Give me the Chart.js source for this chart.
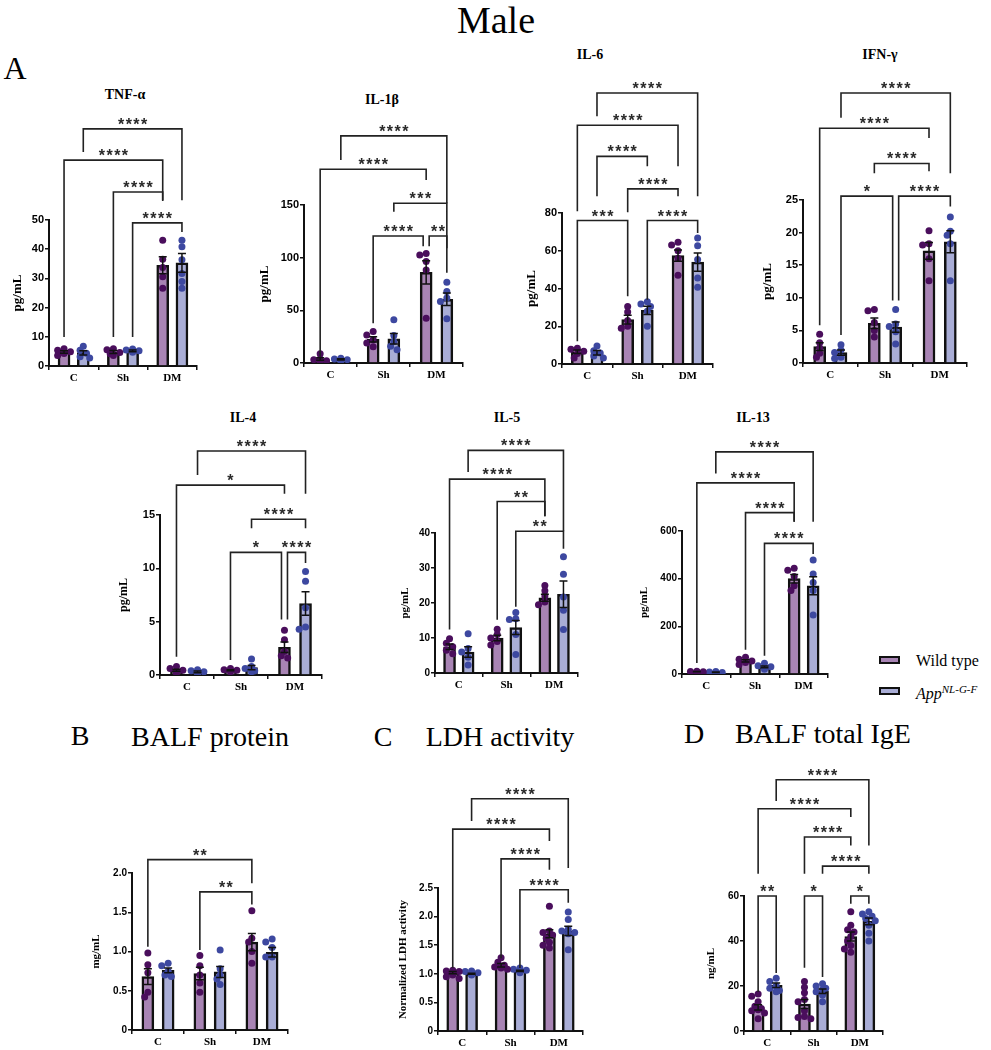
<!DOCTYPE html>
<html>
<head>
<meta charset="utf-8">
<script src="https://cdn.jsdelivr.net/npm/chart.js@4.4.1/dist/chart.umd.min.js"></script>
<style>
  body { margin: 0; background: #fff; }
  #fig { position: relative; width: 991px; height: 1050px; overflow: hidden; font-family: "Liberation Serif", "Times New Roman", serif; color: #000; }
  #fig canvas { position: absolute; }
  .t { position: absolute; transform: translate(-50%, -50%); white-space: nowrap; line-height: 1; }
  .ttl { font-weight: bold; font-size: 14px; }
  .big { font-size: 28px; }
  .key { position: absolute; width: 17px; height: 4px; border: 2.5px solid #111; }
  .lg { position: absolute; font-size: 16px; white-space: nowrap; line-height: 1; }
  .lg sup { font-size: 11px; }
</style>
</head>
<body>
<div id="fig">
  <div class="t" style="left:496px;top:20px;font-size:38px;">Male</div>
  <div class="t" style="left:15px;top:68px;font-size:32px;">A</div>

  <div class="t ttl" style="left:125px;top:95px;">TNF-α</div>
  <div class="t ttl" style="left:382px;top:100px;">IL-1β</div>
  <div class="t ttl" style="left:590px;top:55px;">IL-6</div>
  <div class="t ttl" style="left:880px;top:55px;">IFN-γ</div>
  <div class="t ttl" style="left:243px;top:418px;">IL-4</div>
  <div class="t ttl" style="left:507px;top:418px;">IL-5</div>
  <div class="t ttl" style="left:753px;top:418px;">IL-13</div>

  <div class="t big" style="left:80px;top:736px;">B</div>
  <div class="t big" style="left:210px;top:737px;">BALF protein</div>
  <div class="t big" style="left:383px;top:737px;">C</div>
  <div class="t big" style="left:500px;top:737px;">LDH activity</div>
  <div class="t big" style="left:694px;top:734px;">D</div>
  <div class="t big" style="left:823px;top:734px;">BALF total IgE</div>

  <div class="key" style="left:879px;top:656px;background:#a884b4;"></div>
  <div class="lg" style="left:916px;top:653px;">Wild type</div>
  <div class="key" style="left:879px;top:687px;background:#a9add6;"></div>
  <div class="lg" style="left:916px;top:684px;"><i>App</i><sup><i>NL-G-F</i></sup></div>
</div>

<script>
const groups = ['C', 'Sh', 'DM'];

// TNF-α
const tnfWtMean = [4.8, 4.8, 34.5];
const tnfWtSem = [0.4, 0.5, 2.9];
const tnfAppMean = [4.5, 5.2, 35.3];
const tnfAppSem = [0.7, 0.3, 3.2];
const tnfWtPts = [[5.9, 5.4, 4.9, 4.3, 3.6], [5.9, 5.6, 4.6, 4.2, 3.6], [43.1, 36.6, 33.7, 30.6, 26.6]];
const tnfAppPts = [[6.8, 5.4, 4.4, 3.2, 2.7], [5.8, 5.5, 5.2, 5.0, 4.7], [43.1, 40.8, 36.4, 31.7, 28.9, 26.6]];
// [bar a, bar b, level, end a, end b, label]  bars: 0 C-WT,1 C-App,2 Sh-WT,3 Sh-App,4 DM-WT,5 DM-App
const tnfSig = [[1, 5, 81.2, 73.3, 56.8, '****'], [0, 4, 70.5, 9.9, 56.8, '****'], [2, 4, 59.6, 9.9, 56.5, '****'], [3, 5, 49, 9.9, 45.9, '****']];

// IL-1β
const il1WtMean = [3.8, 22.5, 86];
const il1WtSem = [1.3, 2.5, 11];
const il1AppMean = [3.5, 23, 60.5];
const il1AppSem = [0.6, 5, 6];
const il1WtPts = [[8.8, 3.8, 3.2, 2.2, 1.6], [30, 26.5, 22, 19, 15.5], [104, 102.5, 96.3, 88.4, 42.6]];
const il1AppPts = [[4.4, 3.8, 3.2, 2.5, 2.2], [41, 26, 20.5, 15.8, 12.6], [76.7, 67.9, 61.6, 58.4, 42]];
const il1Sig = [[1, 5, 215.6, 192.8, 151.6, '****'], [0, 4, 183.9, 6, 173.8, '****'], [3, 5, 151.6, 143.7, 109, '***'], [2, 4, 120.6, 37.7, 110.8, '****'], [4, 5, 120.6, 110.8, 85.7, '**']];

// IL-6
const il6WtMean = [6.5, 23.5, 57.4];
const il6WtSem = [0.9, 2.3, 3];
const il6AppMean = [6, 28.4, 54];
const il6AppSem = [1.2, 2.2, 4.8];
const il6WtPts = [[8.3, 7.8, 6.8, 5.6, 3.2], [30.5, 27.5, 23, 20, 19], [64.5, 63, 60, 56, 47]];
const il6AppPts = [[9.5, 7, 5.8, 4.2, 3.2], [33, 31.8, 30.5, 28, 20], [66.8, 62.7, 55.3, 45.6, 40.6]];
const il6Sig = [[1, 5, 143.6, 131.3, 88.9, '****'], [0, 4, 126.5, 80.9, 104.8, '****'], [1, 3, 110, 88.9, 104.8, '****'], [2, 4, 92.8, 80.4, 88.9, '****'], [0, 2, 76, 12, 35.9, '***'], [3, 5, 76, 34.1, 69.4, '****']];

// IFN-γ
const ifnWtMean = [2.5, 6.1, 17.2];
const ifnWtSem = [0.6, 0.8, 1.3];
const ifnAppMean = [1.6, 5.5, 18.6];
const ifnAppSem = [0.4, 0.8, 1.7];
const ifnWtPts = [[4.4, 3.1, 2.3, 1.5, 0.9], [8.2, 8, 6.2, 5, 4], [20.3, 18.3, 18.1, 16, 12.6]];
const ifnAppPts = [[2.8, 2, 1.6, 0.9, 0.7], [8.2, 6, 5.6, 4.8, 2.9], [22.4, 20.2, 19.6, 18.3, 12.6]];
const ifnSig = [[1, 5, 41.4, 37.6, 29.1, '****'], [0, 4, 36, 5.8, 34.5, '****'], [2, 4, 30.6, 29.1, 29.4, '****'], [1, 3, 25.6, 4.3, 9.6, '*'], [3, 5, 25.6, 9.6, 24, '****']];

// IL-4
const il4WtMean = [0.45, 0.45, 2.6];
const il4WtSem = [0.1, 0.05, 0.5];
const il4AppMean = [0.3, 0.7, 6.7];
const il4AppSem = [0.08, 0.2, 1.1];
const il4WtPts = [[0.8, 0.6, 0.45, 0.3, 0.2], [0.6, 0.5, 0.45, 0.4, 0.3], [4.2, 3.3, 2.2, 1.8, 1.6]];
const il4AppPts = [[0.5, 0.4, 0.3, 0.2, 0.1], [1.5, 0.8, 0.6, 0.4, 0.3], [9.7, 8.8, 6.3, 4.5, 4.3]];
const il4Sig = [[1, 5, 21, 18.75, 17, '****'], [0, 4, 17.8, 1.7, 17, '*'], [3, 5, 14.6, 13.75, 13.75, '****'], [2, 4, 11.5, 1.4, 5.2, '*'], [4, 5, 11.5, 5.2, 10.5, '****']];

// IL-5
const il5WtMean = [7.5, 10, 21.5];
const il5WtSem = [0.8, 0.8, 1];
const il5AppMean = [6, 13, 22.5];
const il5AppSem = [1.5, 2, 3.8];
const il5WtPts = [[9.8, 8.5, 7.5, 6.5, 5.5], [12.5, 11, 10, 9, 8], [25, 23.5, 22, 20.3, 19.5]];
const il5AppPts = [[11.2, 7, 6, 4.5, 2.3], [17.3, 15.5, 15.3, 11, 5.3], [33.2, 28.2, 21.7, 17.9, 12.4]];
const il5Sig = [[1, 5, 63.6, 57.4, 40.5, '****'], [0, 4, 55.4, 12.4, 44.8, '****'], [2, 4, 49, 15.2, 44.8, '**'], [3, 5, 40.5, 18.9, 35.5, '**']];

// IL-13
const il13WtMean = [10, 55, 400];
const il13WtSem = [1, 5, 18];
const il13AppMean = [7, 30, 370];
const il13AppSem = [1, 4, 38];
const il13WtPts = [[12, 10, 9, 8, 7], [70, 62, 55, 48, 40], [444, 435, 409, 370, 350]];
const il13AppPts = [[10, 8, 6, 5, 4], [45, 35, 30, 25, 20], [478, 420, 384, 350, 248]];
const il13Sig = [[1, 5, 932, 841, 639, '****'], [0, 4, 802, 46, 639, '****'], [2, 4, 677, 102, 639, '****'], [3, 5, 548, 77, 504, '****']];

// BALF protein
const protWtMean = [0.68, 0.72, 1.12];
const protWtSem = [0.1, 0.08, 0.11];
const protAppMean = [0.76, 0.74, 0.99];
const protAppSem = [0.03, 0.07, 0.06];
const protWtPts = [[0.98, 0.83, 0.73, 0.48, 0.42], [0.95, 0.82, 0.7, 0.6, 0.48], [1.52, 1.17, 1.12, 1.0, 0.85]];
const protAppPts = [[0.85, 0.82, 0.75, 0.7, 0.68], [1.02, 0.78, 0.7, 0.65, 0.58], [1.16, 1.12, 1.05, 0.93, 0.93]];
const protSig = [[0, 4, 2.17, 1.06, 1.87, '**'], [2, 4, 1.76, 1.02, 1.6, '**']];

// LDH activity
const ldhWtMean = [1.02, 1.15, 1.7];
const ldhWtSem = [0.02, 0.03, 0.07];
const ldhAppMean = [1.0, 1.05, 1.75];
const ldhAppSem = [0.01, 0.01, 0.08];
const ldhWtPts = [[1.06, 1.05, 1.04, 1.03, 1.02, 1.0, 0.98, 0.95, 0.92], [1.28, 1.2, 1.15, 1.12, 1.1, 1.08], [2.18, 1.75, 1.72, 1.68, 1.62, 1.55, 1.5, 1.45]];
const ldhAppPts = [[1.05, 1.04, 1.02, 1.0, 0.99, 0.98], [1.1, 1.08, 1.06, 1.05, 1.04, 1.02], [2.08, 1.95, 1.78, 1.75, 1.72, 1.7, 1.42]];
const ldhSig = [[1, 5, 4.06, 3.67, 2.85, '****'], [0, 4, 3.53, 1.1, 3.32, '****'], [2, 4, 3.01, 1.27, 2.82, '****'], [3, 5, 2.47, 1.1, 2.24, '****']];

// BALF total IgE
const igeWtMean = [10.5, 12, 42];
const igeWtSem = [1.2, 2, 2];
const igeAppMean = [20.3, 17.7, 48.7];
const igeAppSem = [1, 1, 1.5];
const igeWtPts = [[16.5, 15.5, 13, 11, 10, 9.5, 9, 8, 5.5], [22, 19.5, 17, 14, 13, 9, 6.5, 6, 5.5], [53, 47, 45, 44, 42, 40, 38, 36.5, 35]];
const igeAppPts = [[23.5, 22, 20, 19, 18, 17.5], [21, 20, 19, 18.5, 17.5, 16, 13], [53, 52, 51, 50, 49, 47, 43.5, 40]];
const igeSig = [[1, 5, 111.7, 102.2, 82.5, '****'], [0, 4, 98.8, 69.9, 95.1, '****'], [2, 4, 86.2, 69.9, 82.5, '****'], [3, 5, 73.3, 69.9, 69.9, '****'], [0, 1, 60, 17.3, 25.8, '**'], [2, 3, 60, 28.1, 24, '*'], [4, 5, 60, 56.6, 56.6, '*']];

const WT_FILL = '#a884b4', APP_FILL = '#a9add6';
const WT_DOT = '#4a0e5c', APP_DOT = '#3d48a0';
const SERIF = '"Liberation Serif", "Times New Roman", serif';
const SANS = '"Liberation Sans", Arial, sans-serif';

// where each plot sits on the page (axis pixels)
const panels = [
  { wm: tnfWtMean, ws: tnfWtSem, am: tnfAppMean, as: tnfAppSem, wp: tnfWtPts, ap: tnfAppPts, sig: tnfSig, max: 50, step: 10, x0: 49, x1: 197, y0: 366, y1: 220, gap: 31, ytitle: 'pg/mL', tf: 13, kf: 11 },
  { wm: il1WtMean, ws: il1WtSem, am: il1AppMean, as: il1AppSem, wp: il1WtPts, ap: il1AppPts, sig: il1Sig, max: 150, step: 50, x0: 304, x1: 463, y0: 363, y1: 205, gap: 39, ytitle: 'pg/mL', tf: 13, kf: 11 },
  { wm: il6WtMean, ws: il6WtSem, am: il6AppMean, as: il6AppSem, wp: il6WtPts, ap: il6AppPts, sig: il6Sig, max: 80, step: 20, x0: 562, x1: 713, y0: 364, y1: 213, gap: 30, ytitle: 'pg/mL', tf: 13, kf: 11 },
  { wm: ifnWtMean, ws: ifnWtSem, am: ifnAppMean, as: ifnAppSem, wp: ifnWtPts, ap: ifnAppPts, sig: ifnSig, max: 25, step: 5, x0: 803, x1: 967, y0: 363, y1: 200, gap: 35, ytitle: 'pg/mL', tf: 13, kf: 11 },
  { wm: il4WtMean, ws: il4WtSem, am: il4AppMean, as: il4AppSem, wp: il4WtPts, ap: il4AppPts, sig: il4Sig, max: 15, step: 5, x0: 160, x1: 322, y0: 675, y1: 515, gap: 35, ytitle: 'pg/mL', tf: 12, kf: 11 },
  { wm: il5WtMean, ws: il5WtSem, am: il5AppMean, as: il5AppSem, wp: il5WtPts, ap: il5AppPts, sig: il5Sig, max: 40, step: 10, x0: 435, x1: 578, y0: 673, y1: 533, gap: 28, ytitle: 'pg/mL', tf: 11, kf: 10 },
  { wm: il13WtMean, ws: il13WtSem, am: il13AppMean, as: il13AppSem, wp: il13WtPts, ap: il13AppPts, sig: il13Sig, max: 600, step: 200, x0: 682, x1: 828, y0: 674, y1: 531, gap: 36, ytitle: 'pg/mL', tf: 11, kf: 10 },
  { wm: protWtMean, ws: protWtSem, am: protAppMean, as: protAppSem, wp: protWtPts, ap: protAppPts, sig: protSig, max: 2, step: 0.5, dec: 1, x0: 132, x1: 288, y0: 1030, y1: 873, gap: 34, ytitle: 'mg/mL', tf: 11, kf: 10 },
  { wm: ldhWtMean, ws: ldhWtSem, am: ldhAppMean, as: ldhAppSem, wp: ldhWtPts, ap: ldhAppPts, sig: ldhSig, max: 2.5, step: 0.5, dec: 1, x0: 438, x1: 583, y0: 1031, y1: 888, gap: 33, ytitle: 'Normalized LDH activity', tf: 11, kf: 10 },
  { wm: igeWtMean, ws: igeWtSem, am: igeAppMean, as: igeAppSem, wp: igeWtPts, ap: igeAppPts, sig: igeSig, max: 60, step: 20, x0: 744, x1: 883, y0: 1031, y1: 896, gap: 31, ytitle: 'ng/mL', tf: 11, kf: 10 }
];

const SIDE = 0.195; // bar centre offset inside a group, in category units

// simple beeswarm so dots do not sit on top of each other
function swarm(groupsPts, side, pxX, pxY) {
  const out = [];
  groupsPts.forEach((vals, cat) => {
    const placed = [];
    vals.slice().sort((a, b) => b - a).forEach(v => {
      const yp = v * pxY;
      let dx = 0;
      for (const c of [0, -1, 1, -2, 2]) {
        const xp = c * 3.2;
        if (placed.every(q => Math.hypot(q[0] - xp, q[1] - yp) >= 5)) { dx = xp; break; }
      }
      placed.push([dx, yp]);
      out.push({ x: cat + side * SIDE + dx / pxX, y: v });
    });
  });
  return out;
}

function makePanel(p) {
  const yw = p.gap + 12;
  const xh = 24, padR = 12;
  const top = p.y1 - 150;
  const W = yw + (p.x1 - p.x0) + padR;
  const H = (p.y0 - top) + xh;
  const cv = document.createElement('canvas');
  cv.width = W; cv.height = H;
  cv.style.left = (p.x0 - yw) + 'px';
  cv.style.top = top + 'px';
  document.getElementById('fig').appendChild(cv);

  const pxX = (p.x1 - p.x0) / 3;
  const pxY = (p.y0 - p.y1) / p.max;
  const barData = (means, side) => means.map((m, i) => ({ x: i + side * SIDE, y: m }));

  const sigPlugin = {
    id: 'sig',
    afterDatasetsDraw(chart) {
      const ctx = chart.ctx, x = chart.scales.x, y = chart.scales.y;
      const barX = k => x.getPixelForValue(Math.floor(k / 2) + (k % 2 ? SIDE : -SIDE));
      ctx.save();
      // error bars (SEM)
      [[p.wm, p.ws, -1], [p.am, p.as, 1]].forEach(([ms, ss, side]) => {
        ms.forEach((m, i) => {
          const s = ss[i];
          const px = x.getPixelForValue(i + side * SIDE);
          const yt = y.getPixelForValue(m + s), yb = y.getPixelForValue(Math.max(0, m - s));
          ctx.strokeStyle = '#111';
          ctx.lineWidth = 1.5;
          ctx.beginPath();
          ctx.moveTo(px, yb); ctx.lineTo(px, yt);
          ctx.moveTo(px - 4, yt); ctx.lineTo(px + 4, yt);
          ctx.moveTo(px - 4, yb); ctx.lineTo(px + 4, yb);
          ctx.stroke();
        });
      });
      // significance brackets
      p.sig.forEach(b => {
        const [a, c, lev, ea, ec, lab] = b;
        let xa = barX(a), xc = barX(c);
        if (p.sig.some(o => o !== b && o[2] === lev && o[1] === a)) xa += 3;
        if (p.sig.some(o => o !== b && o[2] === lev && o[0] === c)) xc -= 3;
        const yl = y.getPixelForValue(lev);
        ctx.strokeStyle = '#222';
        ctx.lineWidth = 1.6;
        ctx.beginPath();
        ctx.moveTo(xa, y.getPixelForValue(ea));
        ctx.lineTo(xa, yl);
        ctx.lineTo(xc, yl);
        ctx.lineTo(xc, y.getPixelForValue(ec));
        ctx.stroke();
        ctx.fillStyle = '#2a2a2a';
        ctx.font = 'bold 16px ' + SANS;
        ctx.letterSpacing = '1.5px';
        ctx.textAlign = 'center';
        ctx.textBaseline = 'alphabetic';
        ctx.fillText(lab, (xa + xc) / 2 + 0.75, yl + 1);
      });
      ctx.restore();
    }
  };

  const barStyle = { type: 'bar', grouped: false, barThickness: 12, borderColor: '#111', borderWidth: 2.5, order: 3 };
  new Chart(cv, {
    type: 'bar',
    data: {
      datasets: [
        Object.assign({ label: 'Wild type', data: barData(p.wm, -1), backgroundColor: WT_FILL }, barStyle),
        Object.assign({ label: 'App NL-G-F', data: barData(p.am, 1), backgroundColor: APP_FILL }, barStyle),
        { type: 'scatter', data: swarm(p.wp, -1, pxX, pxY), backgroundColor: WT_DOT, borderWidth: 0, pointRadius: 3.5, order: 1 },
        { type: 'scatter', data: swarm(p.ap, 1, pxX, pxY), backgroundColor: APP_DOT, borderWidth: 0, pointRadius: 3.5, order: 1 }
      ]
    },
    options: {
      responsive: false,
      animation: false,
      events: [],
      layout: { padding: { top: p.y1 - top, left: 0, right: padR, bottom: 0 } },
      plugins: { legend: { display: false }, tooltip: { enabled: false } },
      scales: {
        x: {
          type: 'linear', min: -0.5, max: 2.5, offset: false,
          afterBuildTicks(s) { s.ticks = groups.map((g, i) => ({ value: i })); },
          grid: { display: true, drawOnChartArea: false, tickLength: 4, color: '#111', lineWidth: 1.5 },
          border: { color: '#111', width: 2 },
          ticks: { color: '#000', padding: 2, maxRotation: 0, autoSkip: false, font: { family: SERIF, weight: 'bold', size: 11 }, callback: v => groups[v] },
          afterFit(s) { s.height = xh; }
        },
        y: {
          min: 0, max: p.max,
          grid: { drawOnChartArea: false, tickLength: 4, color: '#111', lineWidth: 1.5 },
          border: { color: '#111', width: 2 },
          ticks: {
            stepSize: p.step, color: '#000', padding: 1,
            font: { family: SANS, weight: 'bold', size: p.kf },
            callback: v => (p.dec && v !== 0) ? v.toFixed(p.dec) : String(v)
          },
          title: { display: true, text: p.ytitle, color: '#000', padding: { top: 4, bottom: 0 }, font: { family: SERIF, weight: 'bold', size: p.tf } },
          afterFit(s) { s.width = yw; }
        }
      }
    },
    plugins: [sigPlugin]
  });
}

panels.forEach(makePanel);
</script>
</body>
</html>
